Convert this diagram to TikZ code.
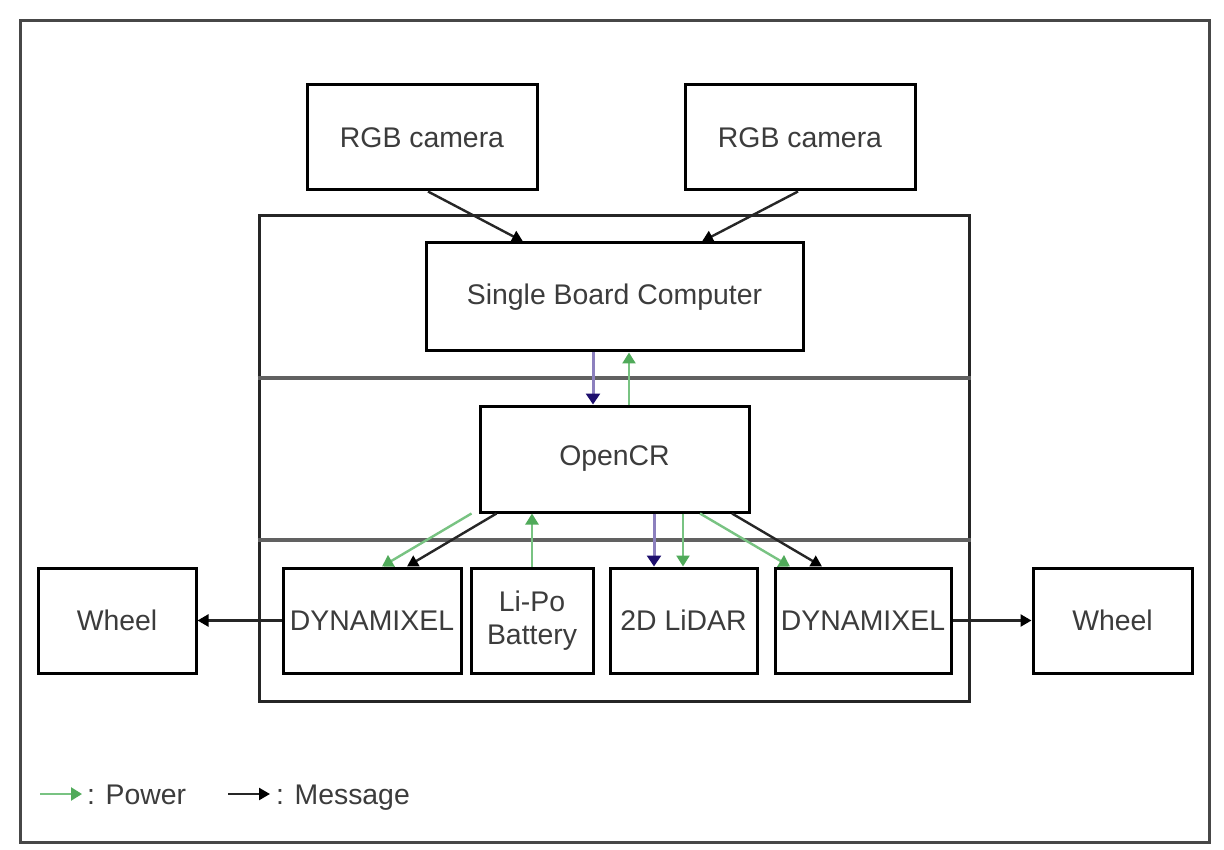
\documentclass[tikz,border=0pt]{standalone}
\usepackage{fontspec}
\setmainfont{Liberation Sans}
\usetikzlibrary{arrows.meta,calc}
\definecolor{pwr}{RGB}{120,195,130}
\definecolor{pwrhead}{RGB}{80,170,90}
\definecolor{sig}{RGB}{140,128,190}
\definecolor{sighead}{RGB}{30,15,110}
\definecolor{txt}{RGB}{60,60,60}
\tikzset{
  blk/.style={draw=black, line width=3pt, fill=white, inner sep=0pt, text=txt,
    font=\fontsize{28.4}{33}\selectfont, align=center},
  power/.style={draw=pwr, line width=2.4pt, -{Triangle[length=11pt,width=13pt,color=pwrhead]}},
  msg/.style={draw=black!85, line width=2.4pt, -{Triangle[length=11pt,width=12pt,color=black]}},
  sigl/.style={draw=sig, line width=3pt, -{Triangle[length=11pt,width=14pt,color=sighead]}},
  divider/.style={draw=black!62, line width=4pt},
  lbl/.style={text=txt, font=\fontsize{28.4}{33}\selectfont, inner sep=0pt, anchor=base west}
}
\begin{document}
\begin{tikzpicture}[x=1pt,y=-1pt]
\useasboundingbox (0,0) rectangle (1224,850);
\fill[white] (0,0) rectangle (1224,850);
% outer frame
\draw[black!72, line width=3pt] (20,21) rectangle (1209,842);
% container
\node[draw=black!85, line width=3pt, inner sep=0pt, minimum width=710pt, minimum height=485pt] (cont) at (614,458.5) {};
\draw[divider] (cont.west |- 0,378) -- (cont.east |- 0,378);
\draw[divider] (cont.west |- 0,540) -- (cont.east |- 0,540);
% boxes
\node[blk, minimum width=230pt, minimum height=105pt] (cam1) at (422,137.5) {RGB camera};
\node[blk, minimum width=230pt, minimum height=105pt] (cam2) at (800,137.5) {RGB camera};
\node[blk, minimum width=377pt, minimum height=108pt] (sbc) at (614.5,297) {Single Board Computer};
\node[blk, minimum width=269pt, minimum height=106pt] (ocr) at (614.5,459) {OpenCR};
\node[blk, minimum width=178pt, minimum height=105pt] (dynl) at (372,620.5) {DYNAMIXEL};
\node[blk, minimum width=122pt, minimum height=105pt] (lipo) at (532,620.5) {Li-Po\\Battery};
\node[blk, minimum width=147pt, minimum height=105pt] (lidar) at (683.5,620.5) {2D LiDAR};
\node[blk, minimum width=176pt, minimum height=105pt] (dynr) at (863,620.5) {DYNAMIXEL};
\node[blk, minimum width=158pt, minimum height=105pt] (whl) at (117,620.5) {Wheel};
\node[blk, minimum width=159pt, minimum height=105pt] (whr) at (1112.5,620.5) {Wheel};
% camera -> SBC
\draw[msg] ([xshift=6pt]cam1.south) -- ([xshift=-91.5pt]sbc.north);
\draw[msg] ([xshift=-2pt]cam2.south) -- ([xshift=87.5pt]sbc.north);
% SBC <-> OpenCR
\draw[sigl] ([xshift=-21.5pt]sbc.south) -- ([xshift=-21.5pt]ocr.north);
\draw[power] ([xshift=14.5pt]ocr.north) -- ([xshift=14.5pt]sbc.south);
% OpenCR -> lower
\draw[power] ([xshift=-7pt]ocr.south west) -- ([xshift=10pt]dynl.north);
\draw[msg] ([xshift=18pt]ocr.south west) -- ([xshift=35pt]dynl.north);
\draw[power] (lipo.north) -- (lipo.north |- ocr.south);
\draw[sigl] ([xshift=39.5pt]ocr.south) -- ([xshift=-29.5pt]lidar.north);
\draw[power] ([xshift=68.5pt]ocr.south) -- ([xshift=-0.5pt]lidar.north);
\draw[power] ([xshift=85.5pt]ocr.south) -- ([xshift=-73pt]dynr.north);
\draw[msg] ([xshift=117.5pt]ocr.south) -- ([xshift=-41pt]dynr.north);
% DYNAMIXEL -> wheels
\draw[msg] (dynl.west) -- (whl.east);
\draw[msg] (dynr.east) -- (whr.west);
% legend
\coordinate (pw0) at (40,794);
\coordinate (pw1) at (82,794);
\coordinate (ms0) at (228,794);
\coordinate (ms1) at (270,794);
\draw[power] (pw0) -- (pw1);
\node[lbl] (pwl) at (87,804) {: Power};
\draw[msg] (ms0) -- (ms1);
\node[lbl] (msl) at (276,804) {: Message};
\end{tikzpicture}
\end{document}
